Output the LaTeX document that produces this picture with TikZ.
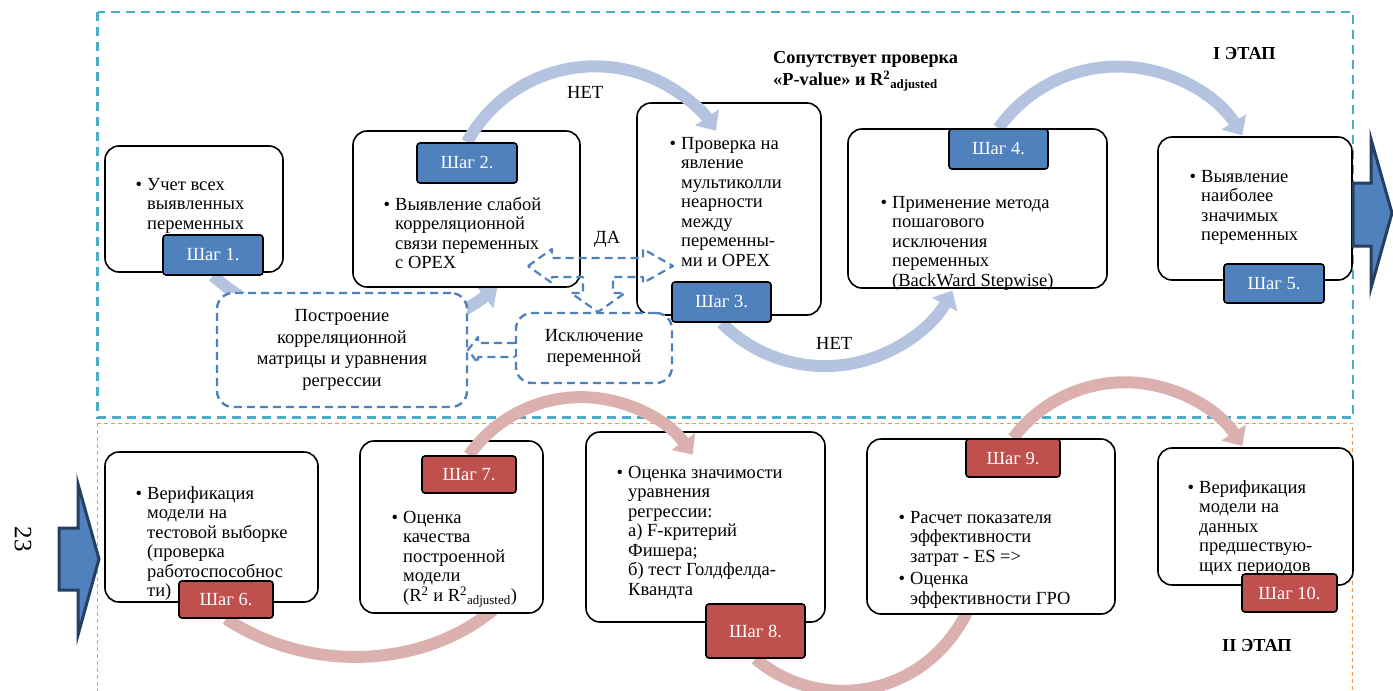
\documentclass[tikz,border=0pt]{standalone}
\usepackage{fontspec}
\setmainfont{Liberation Serif}
\usetikzlibrary{arrows.meta}
\usetikzlibrary{positioning}

\definecolor{tagblue}{HTML}{4F81BD}
\definecolor{tagred}{HTML}{C0504D}
\definecolor{arcblue}{HTML}{B4C4E0}
\definecolor{arcred}{HTML}{DDB0B0}
\definecolor{frameteal}{HTML}{4BACC6}
\definecolor{frameorange}{HTML}{F79646}
\definecolor{navy}{HTML}{243F60}

\pgfdeclarelayer{back}
\pgfdeclarelayer{front}
\pgfsetlayers{back,main,front}

\begin{document}
\begin{tikzpicture}[x=1pt, y=1pt, yscale=-1,
      every node/.style={inner sep=0pt, font=\fontsize{18.5}{19.5}\selectfont},
      stepbox/.style={draw, line width=1.6pt, rounded corners=14pt, fill=white},
      bluetag/.style={draw, line width=1.6pt, rounded corners=3pt, fill=tagblue, text=white},
      redtag/.style={bluetag, fill=tagred},
      boxtext/.style={anchor=north west, align=left},
      dashbox/.style={draw=tagblue, line width=2.4pt, dash pattern=on 8pt off 5pt,
        rounded corners=16pt, fill=white, align=center, font=\fontsize{18.5}{21.7}\selectfont},
      dasharrow/.style={draw=tagblue, line width=2.2pt, dash pattern=on 8pt off 5pt, line join=round},
      bluearc/.style={draw=arcblue, line width=12pt, -{Triangle[width=28pt,length=16pt]}},
      redarc/.style={bluearc, draw=arcred},
      bigarrow/.style={fill=tagblue, draw=navy, line width=3pt},
      stage/.style={anchor=north west, font=\bfseries\fontsize{18.3}{22}\selectfont},
      ]
  \useasboundingbox (0,0) rectangle (1393,691);

  % stage frames
  \begin{pgfonlayer}{back}
    \draw[frameteal, line width=2.2pt, dash pattern=on 9pt off 6pt] (97.5,12) rectangle (1353,417.5);
    \draw[frameorange, line width=1pt, dash pattern=on 4pt off 3pt] (97.5,423) rectangle (1352.5,720);
  \end{pgfonlayer}

  % step boxes
  \node[stepbox, minimum width=178pt, minimum height=126pt] (b1) at (194,209) {};
  \node[stepbox, minimum width=227pt, minimum height=156pt] (b2) at (466.5,209) {};
  \node[stepbox, minimum width=184pt, minimum height=212pt] (b3) at (729,209) {};
  \node[stepbox, minimum width=259pt, minimum height=159pt] (b4) at (977.5,208.5) {};
  \node[stepbox, minimum width=194pt, minimum height=143pt] (b5) at (1255,208.5) {};
  \node[stepbox, minimum width=213pt, minimum height=150pt] (b6) at (211.5,527) {};
  \node[stepbox, minimum width=183pt, minimum height=172pt] (b7) at (451.5,527) {};
  \node[stepbox, minimum width=239pt, minimum height=190pt] (b8) at (705.5,527) {};
  \node[stepbox, minimum width=248pt, minimum height=175pt] (b9) at (991,526.5) {};
  \node[stepbox, minimum width=195pt, minimum height=137pt] (b10) at (1255.5,516.5) {};

  % box texts
  \node[boxtext] (t1) at (147,178) {\llap{\textbullet\hspace{5pt}}Учет всех\\выявленных\\переменных};
  \node[boxtext] (t2) at (395,197) {\llap{\textbullet\hspace{5pt}}Выявление слабой\\корреляционной\\связи переменных\\с OPEX};
  \node[boxtext] (t3) at (681,137) {\llap{\textbullet\hspace{5pt}}Проверка на\\явление\\мультиколли\\неарности\\между\\переменны-\\ми и OPEX};
  \node[boxtext] (t4) at (892,196) {\llap{\textbullet\hspace{5pt}}Применение метода\\пошагового\\исключения\\переменных\\(BackWard Stepwise)};
  \node[boxtext] (t5) at (1201,170) {\llap{\textbullet\hspace{5pt}}Выявление\\наиболее\\значимых\\переменных};
  \node[boxtext] (t6) at (147,486) {\llap{\textbullet\hspace{5pt}}Верификация\\модели на\\тестовой выборке\\(проверка\\работоспособнос\\ти)};
  \node[boxtext] (t7) at (403,511) {\llap{\textbullet\hspace{5pt}}Оценка\\качества\\построенной\\модели\\(R\textsuperscript{2} и R\textsuperscript{2}\textsubscript{adjusted})};
  \node[boxtext] (t8) at (628,466) {\llap{\textbullet\hspace{5pt}}Оценка значимости\\уравнения\\регрессии:\\а) F-критерий\\Фишера;\\б) тест Голдфелда-\\Квандта};
  \node[boxtext] (t9) at (910,511) {\llap{\textbullet\hspace{5pt}}Расчет показателя\\эффективности\\затрат - ES =>\\[3pt]\llap{\textbullet\hspace{5pt}}Оценка\\эффективности ГРО};
  \node[boxtext] (t10) at (1199,480) {\llap{\textbullet\hspace{5pt}}Верификация\\модели на\\данных\\предшествую-\\щих периодов};

  % step tags
  \begin{pgfonlayer}{front}
    \node[bluetag, minimum width=100pt, minimum height=40pt] (s1) at (213,255) {Шаг 1.};
    \node[bluetag, minimum width=100pt, minimum height=40pt] (s2) at (467,163) {Шаг 2.};
    \node[bluetag, minimum width=99pt, minimum height=40pt] (s3) at (721.5,302) {Шаг 3.};
    \node[bluetag, minimum width=99pt, minimum height=40pt] (s4) at (998.5,149) {Шаг 4.};
    \node[bluetag, minimum width=100pt, minimum height=39pt] (s5) at (1274,283.5) {Шаг 5.};
    \node[redtag, minimum width=94pt, minimum height=37pt] (s6) at (226,599.5) {Шаг 6.};
    \node[redtag, minimum width=94pt, minimum height=37pt] (s7) at (469,474.5) {Шаг 7.};
    \node[redtag, minimum width=99pt, minimum height=54pt] (s8) at (755.5,631) {Шаг 8.};
    \node[redtag, minimum width=94pt, minimum height=38pt] (s9) at (1013,458) {Шаг 9.};
    \node[redtag, minimum width=95pt, minimum height=38pt] (s10) at (1289.5,593) {Шаг 10.};
  \end{pgfonlayer}

  % arcs under the boxes
  \begin{pgfonlayer}{back}
    \draw[bluearc] (s1.south) arc[start angle=131.6, end angle=53, radius=224.6];
    \draw[bluearc] (s3.south) arc[start angle=135.4, end angle=28.7, radius=145.3];
    \draw[redarc] (s6.south) arc[start angle=123, end angle=44, radius=231.3];
    \draw[redarc] (s8.south) arc[start angle=130.1, end angle=10, radius=136];
  \end{pgfonlayer}
  % arcs over the boxes
  \draw[bluearc] (s2.north) arc[start angle=208.7, end angle=326, radius=145.9];
  \draw[bluearc] (s4.north) arc[start angle=215.4, end angle=328, radius=146.6];
  \draw[redarc] (s7.north) arc[start angle=215.2, end angle=324.5, radius=137.1];
  \draw[redarc] (s9.north) arc[start angle=216.9, end angle=327, radius=140];

  % correlation loop
  \node[dashbox, minimum width=250pt, minimum height=114pt] (m1) at (342,350)
    {Построение\\корреляционной\\матрицы и уравнения\\регрессии};
  \node[dashbox, minimum width=156pt, minimum height=70pt] (m2) at (594,348)
    {Исключение\\переменной};
  \draw[dasharrow] (528,266) -- (552,249) -- (552,258) -- (643,258) -- (643,249) -- (673,266)
    -- (643,283) -- (643,277) -- (613,277) -- (613,293) -- (625,293) -- (598,312)
    -- (571,293) -- (583,293) -- (583,277) -- (552,277) -- (552,283) -- cycle;
  \draw[dasharrow] (m2.west |- 0,343) -- (478,343) -- (478,337) -- (468,350)
    -- (478,363) -- (478,357) -- (m2.west |- 0,357);

  % labels
  \node[anchor=north west] (no1) at (567,86) {НЕТ};
  \node[anchor=north west] (no2) at (816,337) {НЕТ};
  \node[anchor=north west] (yes) at (594,231) {ДА};
  \node[stage, align=left] (note) at (773,51) {Сопутствует проверка\\«P-value» и R\textsuperscript{2}\textsubscript{adjusted}};
  \node[stage] (st1) at (1213,47) {I ЭТАП};
  \node[stage] (st2) at (1222,639) {II ЭТАП};
  \node[rotate=-90, font=\fontsize{25}{25}\selectfont] (pg) at (23,539) {23};

  % transition arrows
  \draw[bigarrow] (1353,183) -- (1371,183) -- (1371,139) -- (1392,213) -- (1371,288)
    -- (1371,246) -- (1353,246) -- cycle;
  \draw[bigarrow] (59,528) -- (78,528) -- (78,484) -- (99,559) -- (78,635)
    -- (78,590) -- (59,590) -- cycle;
\end{tikzpicture}
\end{document}
